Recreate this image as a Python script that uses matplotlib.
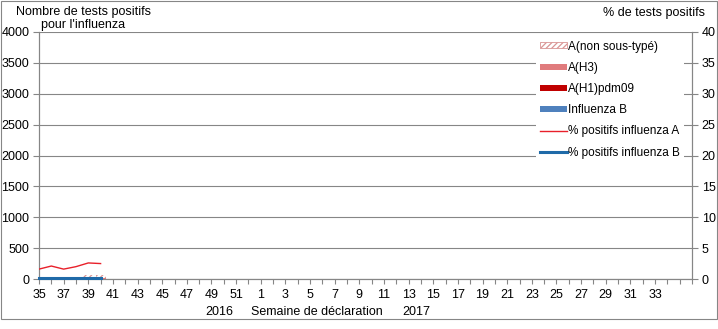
import numpy as np
import matplotlib
matplotlib.use("Agg")
import matplotlib.pyplot as plt
from matplotlib.patches import Patch, Rectangle
from matplotlib.lines import Line2D

plt.rcParams['font.family'] = ['Liberation Sans', 'DejaVu Sans']
plt.rcParams['font.size'] = 9
plt.rcParams['hatch.linewidth'] = 0.9

# weeks 35-52 of 2016, then 1-36 of 2017
weeks = list(range(35, 53)) + list(range(1, 37))
tick_labels = [str(w) if (i % 2 == 0 and i <= 50) else '' for i, w in enumerate(weeks)]

# positive tests by type (only first weeks reported)
flu_b = [4, 3, 3, 5, 25, 8]
a_h1 = [0, 0, 0, 0, 0, 0]
a_h3 = [2, 2, 3, 4, 10, 12]
a_nonsub = [3, 4, 4, 6, 35, 45]

# % positive
pct_a = [1.6, 2.1, 1.6, 2.0, 2.6, 2.5]
pct_b = [0.1, 0.1, 0.1, 0.1, 0.1, 0.1]

W, H = 718, 329
fig = plt.figure(figsize=(W / 100, H / 100), dpi=100)
ax = fig.add_axes([39 / W, 1 - 279 / H, (692 - 39) / W, (279 - 32) / H])

grid_c = '#868686'
c_b = '#4F81BD'
c_h1 = '#C00000'
c_h3 = '#E07B7D'
c_ns = '#D99594'
c_pa = '#E8202A'
c_pb = '#1F6AA8'

x = np.arange(len(flu_b))
bw = 0.8
b1 = np.array(flu_b)
b2 = b1 + np.array(a_h1)
b3 = b2 + np.array(a_h3)
ax.bar(x, flu_b, width=bw, color=c_b, zorder=2)
ax.bar(x, a_h1, width=bw, bottom=b1, color=c_h1, zorder=2)
ax.bar(x, a_h3, width=bw, bottom=b2, color=c_h3, zorder=2)
ax.bar(x, a_nonsub, width=bw, bottom=b3, color='white', edgecolor=c_ns,
       hatch='//////', linewidth=0, zorder=2)

ax.set_xlim(0, len(weeks) - 1)
ax.set_ylim(0, 4000)
ax.set_yticks(range(0, 4001, 500))
ax.set_xticks(range(len(weeks)))
ax.set_xticklabels(tick_labels)
ax.grid(axis='y', color=grid_c, linewidth=0.8, zorder=0)
ax.set_axisbelow(True)
ax.spines['top'].set_visible(False)
for s in ['left', 'right', 'bottom']:
    ax.spines[s].set_color(grid_c)
ax.tick_params(axis='x', length=3.5, width=0.8, color=grid_c, pad=4, labelsize=9)
ax.tick_params(axis='y', length=4, width=0.8, color=grid_c, pad=3, labelsize=9)

ax2 = ax.twinx()
ax2.set_ylim(0, 40)
ax2.set_yticks(range(0, 41, 5))
ax2.plot(x, pct_a, color=c_pa, linewidth=1.0, zorder=3)
ax2.plot(x, pct_b, color=c_pb, linewidth=2.2, zorder=3, clip_on=False)
ax2.spines['top'].set_visible(False)
for s in ['left', 'right', 'bottom']:
    ax2.spines[s].set_color(grid_c)
ax2.tick_params(axis='y', length=4, width=0.8, color=grid_c, pad=3, labelsize=9)

handles = [
    Patch(facecolor='white', edgecolor=c_ns, hatch='//////', linewidth=0.6),
    Patch(facecolor=c_h3, edgecolor='none'),
    Patch(facecolor=c_h1, edgecolor='none'),
    Patch(facecolor=c_b, edgecolor='none'),
    Line2D([], [], color=c_pa, linewidth=1.0),
    Line2D([], [], color=c_pb, linewidth=2.2),
]
labels = ['A(non sous-typé)', 'A(H3)', 'A(H1)pdm09', 'Influenza B',
          '% positifs influenza A', '% positifs influenza B']
leg = ax2.legend(handles, labels, loc='upper left',
                 bbox_to_anchor=(536 / W, 1 - 37 / H), bbox_transform=fig.transFigure,
                 frameon=True, fancybox=False, framealpha=1, edgecolor='none',
                 facecolor='white', fontsize=8.5, handlelength=2.3, handleheight=0.4,
                 handletextpad=0.12, labelspacing=0.78, borderpad=0.3, borderaxespad=0)
leg.set_zorder(2)

def px(xp, yp):
    return xp / W, 1 - yp / H

fig.text(*px(83, 12), 'Nombre de tests positifs', ha='center', va='center', fontsize=9)
fig.text(*px(83, 25), "pour l'influenza", ha='center', va='center', fontsize=9)
fig.text(*px(705, 13), '% de tests positifs', ha='right', va='center', fontsize=9)
fig.text(*px(219, 312), '2016', ha='center', va='center', fontsize=9)
fig.text(*px(317, 312), 'Semaine de déclaration', ha='center', va='center', fontsize=9)
fig.text(*px(416, 312), '2017', ha='center', va='center', fontsize=9)

fig.patches.append(Rectangle((0.5 / W, 1 - 319 / H), 716.5 / W, 318.5 / H,
                             transform=fig.transFigure, fill=False,
                             edgecolor=grid_c, linewidth=0.8))

fig.savefig('out.png', dpi=100)
